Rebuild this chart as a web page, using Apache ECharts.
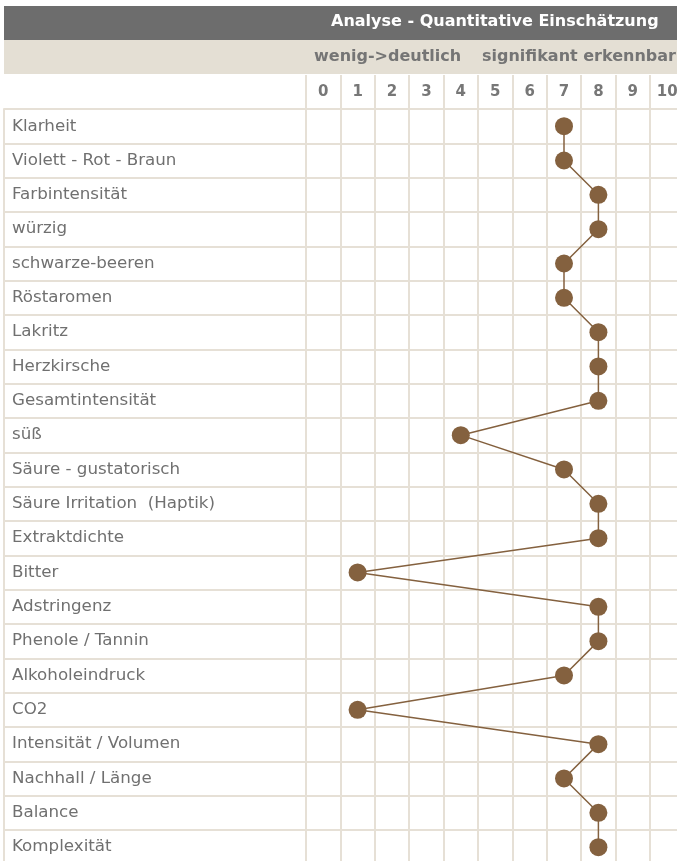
<!DOCTYPE html>
<html>
<head>
<meta charset="utf-8">
<script src="https://cdn.jsdelivr.net/npm/echarts@6/dist/echarts.min.js"></script>
<style>
html,body{margin:0;padding:0;background:#fff;overflow:hidden;width:677px;height:861px;}
#chart{width:690px;height:872px;}
</style>
</head>
<body>
<div id="chart"></div>
<script>
const categories = [
  'Klarheit','Violett - Rot - Braun','Farbintensität','würzig','schwarze-beeren',
  'Röstaromen','Lakritz','Herzkirsche','Gesamtintensität','süß',
  'Säure - gustatorisch','Säure Irritation  (Haptik)','Extraktdichte','Bitter','Adstringenz',
  'Phenole / Tannin','Alkoholeindruck','CO2','Intensität / Volumen','Nachhall / Länge',
  'Balance','Komplexität'
];
const values = [7,7,8,8,7,7,8,8,8,4,7,8,8,1,8,8,7,1,8,7,8,8];
const xTicks = ['0','1','2','3','4','5','6','7','8','9','10'];
const titleText = 'Analyse - Quantitative Einschätzung';
const subLeft = 'wenig->deutlich';
const subRight = 'signifikant erkennbar';

const gridColor = '#e6e0d6';
const brown = '#84613f';
const font = 'DejaVu Sans';

const chart = echarts.init(document.getElementById('chart'), null, {renderer:'canvas'});
chart.setOption({
  backgroundColor: '#ffffff',
  animation: false,
  graphic: [
    {type:'rect', shape:{x:4, y:6, width:700, height:34}, style:{fill:'#6d6d6d'}, z:-10},
    {type:'rect', shape:{x:4, y:40, width:700, height:34}, style:{fill:'#e4dfd4'}, z:-10},
    {type:'text', left: 331, top: 14, style:{text:titleText, fill:'#ffffff', font:'bold 16px "DejaVu Sans"'}},
    {type:'text', left: 314, top: 49, style:{text:subLeft, fill:'#757575', font:'bold 16px "DejaVu Sans"'}},
    {type:'text', left: 482, top: 49, style:{text:subRight, fill:'#757575', font:'bold 16px "DejaVu Sans"'}}
  ],
  grid: {left:306, top:109, width:378.4, height:755.3, containLabel:false},
  xAxis: {
    type:'category', data:xTicks, position:'top', boundaryGap:true,
    axisLine:{show:false},
    axisTick:{show:true, length:34, lineStyle:{color:gridColor, width:2}},
    axisLabel:{show:true, margin:17, verticalAlign:'middle', color:'#777777', fontFamily:font, fontWeight:'bold', fontSize:15},
    splitLine:{show:true, lineStyle:{color:gridColor, width:2}}
  },
  yAxis: [
    {
      type:'category', data:categories, inverse:true, boundaryGap:true,
      axisLine:{show:true, lineStyle:{color:gridColor, width:2}},
      axisTick:{show:true, length:302, lineStyle:{color:gridColor, width:2}},
      axisLabel:{show:true, align:'left', margin:294, color:'#707070', fontFamily:font, fontSize:16.7},
      splitLine:{show:true, lineStyle:{color:gridColor, width:2}}
    },
    {
      type:'category', data:categories, inverse:true, position:'left', offset:302,
      axisLine:{show:true, lineStyle:{color:gridColor, width:2}},
      axisTick:{show:false}, axisLabel:{show:false}, splitLine:{show:false}
    }
  ],
  series: [{
    type:'line',
    data: values.map((v,i)=>[String(v), categories[i]]),
    symbol:'circle', symbolSize:18,
    lineStyle:{color:brown, width:1.5},
    itemStyle:{color:brown},
    z:5
  }]
});
</script>
</body>
</html>
